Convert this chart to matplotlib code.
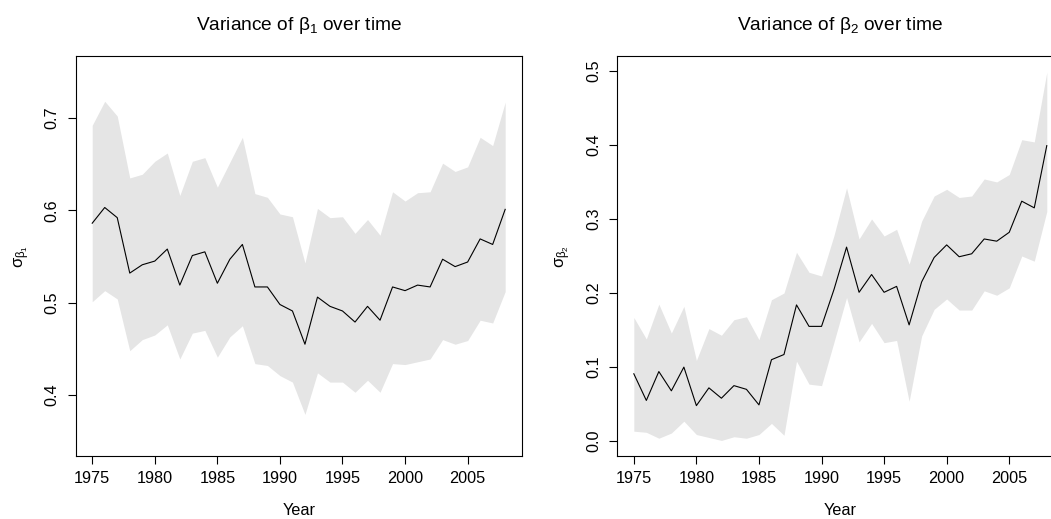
import numpy as np
import matplotlib
matplotlib.use("Agg")
import matplotlib.pyplot as plt

plt.rcParams['font.family'] = ['Liberation Sans', 'DejaVu Sans']
plt.rcParams['mathtext.fontset'] = 'custom'
plt.rcParams['mathtext.rm'] = 'Liberation Sans'
plt.rcParams['mathtext.it'] = 'Liberation Sans'

years = np.arange(1975, 2009)

# beta 1 : mean and band
b1_mean = [0.586, 0.603, 0.592, 0.532, 0.541, 0.545, 0.558, 0.519, 0.551, 0.555,
           0.521, 0.547, 0.563, 0.517, 0.517, 0.498, 0.491, 0.455, 0.506, 0.496,
           0.491, 0.479, 0.496, 0.481, 0.517, 0.513, 0.519, 0.517, 0.547, 0.539,
           0.544, 0.569, 0.563, 0.601]
b1_upper = [0.692, 0.718, 0.702, 0.635, 0.639, 0.653, 0.662, 0.616, 0.653, 0.657,
            0.625, 0.652, 0.679, 0.618, 0.614, 0.596, 0.593, 0.543, 0.602, 0.592,
            0.593, 0.575, 0.590, 0.573, 0.620, 0.610, 0.619, 0.620, 0.651, 0.642,
            0.647, 0.679, 0.670, 0.717]
b1_lower = [0.501, 0.513, 0.504, 0.448, 0.460, 0.465, 0.476, 0.439, 0.467, 0.470,
            0.441, 0.463, 0.475, 0.434, 0.432, 0.421, 0.414, 0.379, 0.424, 0.414,
            0.414, 0.403, 0.416, 0.403, 0.434, 0.433, 0.436, 0.439, 0.460, 0.455,
            0.459, 0.481, 0.478, 0.512]

# beta 2 : mean and band
b2_mean = [0.091, 0.055, 0.094, 0.068, 0.100, 0.048, 0.072, 0.058, 0.075, 0.070,
           0.049, 0.110, 0.117, 0.184, 0.155, 0.155, 0.205, 0.262, 0.201, 0.225,
           0.201, 0.209, 0.157, 0.215, 0.248, 0.265, 0.249, 0.253, 0.273, 0.270,
           0.282, 0.324, 0.315, 0.399]
b2_upper = [0.167, 0.138, 0.185, 0.146, 0.182, 0.109, 0.152, 0.143, 0.164, 0.168,
            0.137, 0.191, 0.200, 0.255, 0.228, 0.223, 0.278, 0.342, 0.273, 0.300,
            0.277, 0.286, 0.239, 0.297, 0.331, 0.340, 0.329, 0.331, 0.354, 0.350,
            0.360, 0.407, 0.404, 0.498]
b2_lower = [0.0135, 0.012, 0.004, 0.011, 0.027, 0.009, 0.005, 0.001, 0.006, 0.004,
            0.009, 0.024, 0.008, 0.108, 0.077, 0.075, 0.134, 0.194, 0.134, 0.159,
            0.133, 0.136, 0.054, 0.142, 0.178, 0.192, 0.177, 0.177, 0.203, 0.197,
            0.207, 0.250, 0.243, 0.310]

W, H = 1051, 519
fig = plt.figure(figsize=(W / 100, H / 100), dpi=100)

ax_w = 446 / W
ax_h = (456 - 56) / H
ax_b = 1 - 456 / H
ax1 = fig.add_axes([75.7 / W, ax_b, ax_w, ax_h])
ax2 = fig.add_axes([617.3 / W, ax_b, ax_w, ax_h])

panels = [
    (ax1, b1_mean, b1_upper, b1_lower, r'Variance of $\beta_1$ over time',
     r'$\sigma_{\beta_1}$', (0.334, 0.767), [0.4, 0.5, 0.6, 0.7]),
    (ax2, b2_mean, b2_upper, b2_lower, r'Variance of $\beta_2$ over time',
     r'$\sigma_{\beta_2}$', (-0.02, 0.52), [0.0, 0.1, 0.2, 0.3, 0.4, 0.5]),
]

for ax, m, up, lo, title, ylab, ylim, yt in panels:
    ax.fill_between(years, lo, up, color='#e5e5e5', linewidth=0)
    ax.plot(years, m, color='black', linewidth=0.8)
    ax.set_xlim(1975 - 1.32, 2008 + 1.32)
    ax.set_ylim(*ylim)
    ax.set_xticks(range(1975, 2006, 5))
    ax.set_yticks(yt)
    ax.set_yticklabels([f'{v:.1f}' for v in yt], rotation=90, va='center')
    ax.tick_params(direction='out', length=5.8, width=0.8, labelsize=11.7, pad=5)
    ax.tick_params(axis='y', pad=6)
    for s in ax.spines.values():
        s.set_linewidth(0.8)
    ax.set_title(title, fontsize=13.8, pad=18.6)
    ax.set_xlabel('Year', fontsize=11.7, labelpad=12)
    ax.set_ylabel(ylab, fontsize=12, labelpad=9)

fig.savefig('out.png', dpi=100)
